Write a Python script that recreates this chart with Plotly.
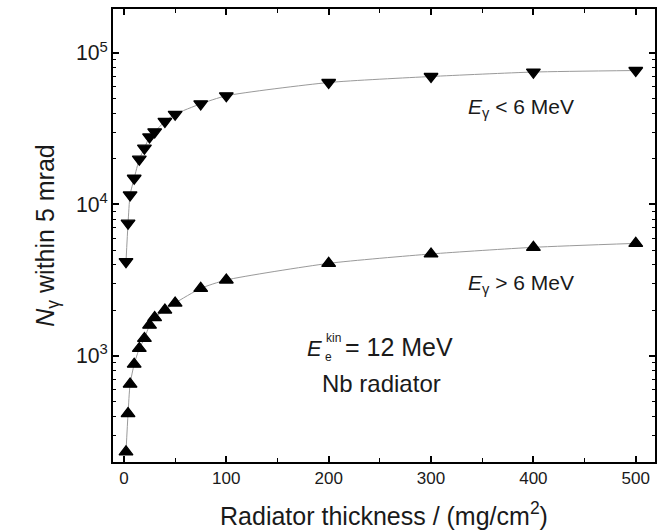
import plotly.graph_objects as go

# Radiator thickness (mg/cm^2)
x_thick = [2, 4, 6, 10, 15, 20, 25, 30, 40, 50, 75, 100, 200, 300, 400, 500]
# N_gamma within 5 mrad, E_gamma < 6 MeV
n_low = [4190, 7520, 11560, 14900, 19900, 23540, 27940, 30180, 35330, 39400,
         46200, 52200, 63900, 70000, 74900, 76700]
# N_gamma within 5 mrad, E_gamma > 6 MeV
n_high = [232, 416, 650, 881, 1119, 1303, 1596, 1791, 2005, 2233,
          2790, 3170, 4083, 4710, 5210, 5535]

FONT = "Liberation Sans, Arial, sans-serif"
TXT = "#1a1a1a"

fig = go.Figure()
for y, sym in [(n_low, "triangle-down"), (n_high, "triangle-up")]:
    fig.add_trace(go.Scatter(
        x=x_thick, y=y, mode="lines",
        line=dict(color="#9a9a9a", width=1, shape="spline", smoothing=0.6),
        showlegend=False, hoverinfo="skip"))
    fig.add_trace(go.Scatter(
        x=x_thick, y=y, mode="markers",
        marker=dict(symbol=sym, size=12, color="black",
                    line=dict(color="black", width=1.3)),
        showlegend=False))

ann_font = dict(family=FONT, size=21, color=TXT)
big_font = dict(family=FONT, size=24, color=TXT)
small_font = dict(family=FONT, size=12, color=TXT)
annotations = [
    dict(x=388, y=4.638, text="<i>E</i><sub>γ</sub> &lt; 6 MeV", font=ann_font,
         xanchor="center", yanchor="middle"),
    dict(x=388, y=3.474, text="<i>E</i><sub>γ</sub> &gt; 6 MeV", font=ann_font,
         xanchor="center", yanchor="middle"),
    dict(x=195.0, y=3.051, text="<i>E</i>", font=dict(family=FONT, size=22, color=TXT),
         xanchor="right", yanchor="middle"),
    dict(x=195.5, y=3.117, text="kin", font=small_font,
         xanchor="left", yanchor="middle"),
    dict(x=194.0, y=2.991, text="e", font=small_font,
         xanchor="left", yanchor="middle"),
    dict(x=214.0, y=3.058, text="= 12 MeV", font=dict(family=FONT, size=25, color=TXT),
         xanchor="left", yanchor="middle"),
    dict(x=251.5, y=2.819, text="Nb radiator", font=big_font,
         xanchor="center", yanchor="middle"),
]
for a in annotations:
    a.update(xref="x", yref="y", showarrow=False)

fig.update_layout(
    width=660, height=531,
    margin=dict(l=113, r=3, t=9, b=69),
    paper_bgcolor="white", plot_bgcolor="white",
    font=dict(family=FONT, color=TXT),
    annotations=annotations,
)
fig.update_xaxes(
    range=[-10.7, 518.8], dtick=100, tick0=0,
    showline=True, linecolor="black", linewidth=1.5, mirror="ticks",
    ticks="inside", ticklen=6, tickwidth=1.5, tickcolor="black",
    minor=dict(dtick=50, ticks="inside", ticklen=4, tickwidth=1, tickcolor="black", showgrid=False),
    showgrid=False, zeroline=False,
    tickfont=dict(family=FONT, size=17, color=TXT),
    title=dict(text="Radiator thickness / (mg/cm<sup>2</sup>)",
               font=dict(family=FONT, size=25, color=TXT), standoff=20),
)
fig.update_yaxes(
    type="log", range=[2.299, 5.291], dtick=1,
    exponentformat="power",
    showline=True, linecolor="black", linewidth=1.5, mirror="ticks",
    ticks="inside", ticklen=6, tickwidth=1.5, tickcolor="black",
    minor=dict(dtick="D1", ticks="inside", ticklen=3, tickwidth=1, tickcolor="black", showgrid=False),
    showgrid=False, zeroline=False,
    tickfont=dict(family=FONT, size=17, color=TXT),
    title=dict(text="<i>N</i><sub>γ</sub> within 5 mrad",
               font=dict(family=FONT, size=25, color=TXT), standoff=14),
)

fig.write_html("out.html")
